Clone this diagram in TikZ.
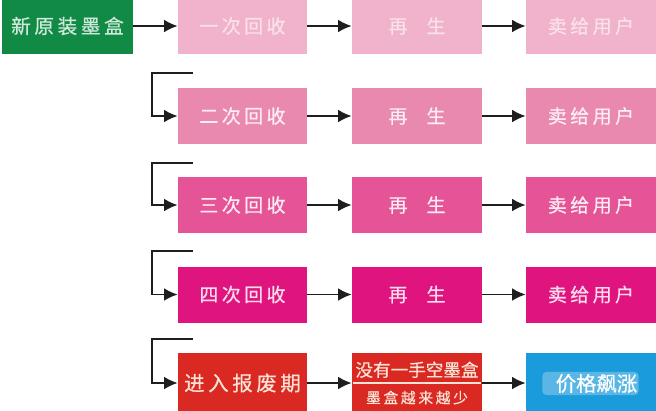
\documentclass[tikz,border=0pt]{standalone}
\usepackage{fontspec}
\usetikzlibrary{positioning,arrows.meta,calc}
\newfontfamily\cjk[LetterSpace=18,FakeBold=0.6]{Noto Sans CJK SC}
\newfontfamily\cjkplain[FakeBold=0.6]{Noto Sans CJK SC}
\definecolor{ink}{HTML}{1E1E1E}
\definecolor{newgreen}{HTML}{118A46}
\definecolor{pinkA}{HTML}{F1B3CB}
\definecolor{pinkB}{HTML}{E989B0}
\definecolor{pinkC}{HTML}{E55496}
\definecolor{pinkD}{HTML}{E0147E}
\definecolor{scrapred}{HTML}{DA2822}
\definecolor{priceblue}{HTML}{1A9BDC}
\definecolor{palered}{HTML}{FBE3D6}

\begin{document}
\begin{tikzpicture}[x=0.025cm, y=-0.025cm,
  stage/.style={rectangle, minimum width=3.25cm, minimum height=1.4cm, inner sep=0pt, font=\cjk\fontsize{13.5}{16}\selectfont, text=white},
  flow/.style={-{Latex[length=3.4mm,width=3.2mm]}, line width=1.4pt, ink},
]
  \useasboundingbox (0,0) rectangle (656,410);
  \clip (0,0) rectangle (656,410);

  \node[stage, fill=newgreen, text=white!80!newgreen, minimum width=3.275cm, font=\cjk\fontsize{14}{16}\selectfont] (N) at (67.5,26) {新原装墨盒};

  % first round
  \node[stage, fill=pinkA, text=white!60!pinkA, minimum width=3.225cm] (R1) at (242.5,26) {一次回收};
  \node[stage, fill=pinkA, text=white!60!pinkA] (G1) at (417,26) {再\quad 生};
  \node[stage, fill=pinkA, text=white!60!pinkA] (U1) at (591,26) {卖给用户};

  % second round
  \node[stage, fill=pinkB, text=white!85!pinkB, minimum width=3.225cm] (R2) at (242.5,116) {二次回收};
  \node[stage, fill=pinkB, text=white!85!pinkB] (G2) at (417,116) {再\quad 生};
  \node[stage, fill=pinkB, text=white!85!pinkB] (U2) at (591,116) {卖给用户};

  % third round
  \node[stage, fill=pinkC, text=white!88!pinkC, minimum width=3.225cm] (R3) at (242.5,205) {三次回收};
  \node[stage, fill=pinkC, text=white!88!pinkC] (G3) at (417,205) {再\quad 生};
  \node[stage, fill=pinkC, text=white!88!pinkC] (U3) at (591,205) {卖给用户};

  % fourth round
  \node[stage, fill=pinkD, text=white!85!pinkD, minimum width=3.225cm] (R4) at (242.5,294.5) {四次回收};
  \node[stage, fill=pinkD, text=white!85!pinkD] (G4) at (417,294.5) {再\quad 生};
  \node[stage, fill=pinkD, text=white!85!pinkD] (U4) at (591,294.5) {卖给用户};

  % scrap stage
  \node[stage, fill=scrapred, text=palered, minimum width=3.225cm, minimum height=1.5cm, font=\cjk\fontsize{14.5}{16}\selectfont] (E) at (242.5,383) {进入报废期};
  \node[stage, fill=scrapred, text=palered, minimum height=1.5cm, align=center, font=\cjkplain] (S) at (417,383)
    {{\fontsize{12.5}{14}\selectfont 没有一手空墨盒}\\[7pt]{\cjk\fontsize{10.5}{12}\selectfont 墨盒越来越少}};
  \draw[palered, line width=0.8pt] ([xshift=1pt]S.west) -- ([xshift=-1pt]S.east);
  \node[stage, fill=priceblue, minimum height=1.5cm] (B) at (591,383) {};
  \node[fill=white, fill opacity=0.28, text opacity=1, text=white, rounded corners=3pt, inner sep=1pt, minimum width=2.35cm, minimum height=0.58cm, font=\cjkplain\fontsize{14.5}{16}\selectfont] (P) at (590.5,383.5) {\hspace{0.3cm}价格飙涨};

  % straight flow
  \draw[flow] (N) -- (R1);
  \draw[flow] (R1) -- (G1);
  \draw[flow] (G1) -- (U1);
  \draw[flow] (R2) -- (G2);
  \draw[flow] (G2) -- (U2);
  \draw[flow] (R3) -- (G3);
  \draw[flow] (G3) -- (U3);
  \draw[flow] (R4) -- (G4);
  \draw[flow] (G4) -- (U4);
  \draw[flow] (E) -- (S);
  \draw[flow] (S) -- (B);

  % back to the next round
  \coordinate (t2) at (193,73);  \coordinate (k2) at (152,73);
  \coordinate (t3) at (193,163); \coordinate (k3) at (152,163);
  \coordinate (t4) at (193,251); \coordinate (k4) at (152,251);
  \coordinate (t5) at (193,339); \coordinate (k5) at (152,339);
  \draw[flow] (t2) -- (k2) |- (R2);
  \draw[flow] (t3) -- (k3) |- (R3);
  \draw[flow] (t4) -- (k4) |- (R4);
  \draw[flow] (t5) -- (k5) |- (E);
\end{tikzpicture}
\end{document}
